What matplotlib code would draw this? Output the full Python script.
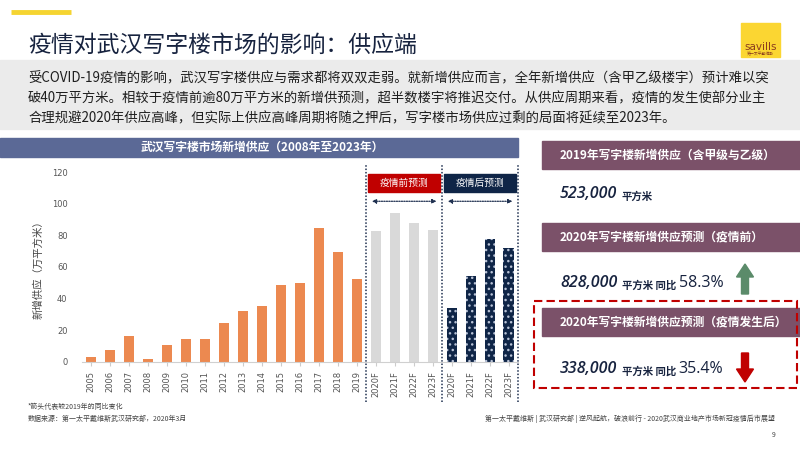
import matplotlib.pyplot as plt
from matplotlib.patches import Rectangle, FancyArrow
from matplotlib.transforms import blended_transform_factory

plt.rcParams['font.family'] = ['Noto Sans CJK SC', 'DejaVu Sans']

# data (万平方米)
years = ["2005", "2006", "2007", "2008", "2009", "2010", "2011", "2012", "2013", "2014",
         "2015", "2016", "2017", "2018", "2019"]
supply = [2.7, 7.2, 16.1, 1.8, 10.6, 14.2, 14.6, 24.3, 31.9, 35.3,
          48.4, 49.7, 84.5, 69.3, 52.3]
fc_years = ["2020F", "2021F", "2022F", "2023F"]
pre_covid = [82.8, 94.2, 87.7, 83.5]
post_covid = [33.8, 54.3, 77.8, 72.3]

orange = "#ec8950"
grey = "#d9d9d9"
navy = "#0f2547"
red = "#c00000"
mauve = "#7b5169"
darktext = "#17233f"
latin = ["Open Sans", "DejaVu Sans"]

fig = plt.figure(figsize=(8, 4.5), dpi=100)
bg = fig.add_axes([0, 0, 1, 1])
bg.set_xlim(0, 800)
bg.set_ylim(450, 0)
bg.axis("off")

# header
bg.plot([11, 71], [12, 12], color="#f5d431", lw=3.5, solid_capstyle="butt")
bg.text(28, 45, "疫情对武汉写字楼市场的影响：供应端", fontsize=16.5, color=darktext, va="center")
bg.add_patch(Rectangle((741, 23), 39, 34, color="#fbd632"))
bg.text(760.5, 47, "savills", fontsize=7.5, color="#8a3b1e", ha="center", va="center",
        family=["Liberation Sans Narrow", "DejaVu Sans"])
bg.text(760.5, 54, "第一太平戴维斯", fontsize=2.8, color="#8a3b1e", ha="center", va="center")

bg.add_patch(Rectangle((0, 60), 800, 69, color="#ebebeb"))
body = ["受COVID-19疫情的影响，武汉写字楼供应与需求都将双双走弱。就新增供应而言，全年新增供应（含甲乙级楼宇）预计难以突",
        "破40万平方米。相较于疫情前逾80万平方米的新增供预测，超半数楼宇将推迟交付。从供应周期来看，疫情的发生使部分业主",
        "合理规避2020年供应高峰，但实际上供应高峰周期将随之押后，写字楼市场供应过剩的局面将延续至2023年。"]
for i, line in enumerate(body):
    bg.text(28, 78 + i * 20, line, fontsize=9.6, color="#1e1e1e", va="center")

# chart banner
bg.add_patch(Rectangle((0, 138), 518, 19, color="#5b6996"))
bg.text(262, 147.5, "武汉写字楼市场新增供应（2008年至2023年）", fontsize=8.5, color="white",
        ha="center", va="center", style="italic", weight="bold")

# right panel
boxes = [(141, "2019年写字楼新增供应（含甲级与乙级）"),
         (223, "2020年写字楼新增供应预测（疫情前）"),
         (308, "2020年写字楼新增供应预测（疫情发生后）")]
for y, label in boxes:
    bg.add_patch(Rectangle((542, y), 258, 28, color=mauve))
    bg.text(560, y + 14, label, fontsize=8.5, color="white", va="center", style="italic", weight="bold")

values = [(193, "523,000", "平方米", ""), (282, "828,000", "平方米 同比", "58.3%"),
          (368, "338,000", "平方米 同比", "35.4%")]
for y, num, unit, pct in values:
    t = bg.text(560, y + 5, num, fontsize=11.5, color=darktext, va="baseline", style="italic",
                weight="semibold", family=latin)
    u = bg.annotate(unit, xy=(1, 0), xycoords=t, xytext=(3, 0), textcoords="offset points",
                    fontsize=7.5, color=darktext, va="bottom", weight="bold")
    if pct:
        bg.annotate(pct, xy=(1, 0), xycoords=u, xytext=(2, 0), textcoords="offset points",
                    fontsize=11.5, color=darktext, va="bottom", family=latin)

bg.add_patch(FancyArrow(745, 294, 0, -30, width=7, head_width=17, head_length=13,
                        length_includes_head=True, color="#5b8b6a"))
bg.add_patch(FancyArrow(745, 353, 0, 29, width=7, head_width=17, head_length=13,
                        length_includes_head=True, color=red))
bg.add_patch(Rectangle((534, 301), 263, 87, fill=False, edgecolor=red, lw=1.5, ls=(0, (4, 2))))

# footer
bg.text(28, 407, "*箭头代表较2019年的同比变化", fontsize=5, color="#444444", va="center")
bg.text(28, 419, "数据来源：第一太平戴维斯武汉研究部，2020年3月", fontsize=5, color="#444444", va="center")
bg.text(775, 419, "第一太平戴维斯 | 武汉研究部 | 逆风起航，破浪前行 - 2020武汉商业地产市场新冠疫情后市展望",
        fontsize=5, color="#444444", va="center", ha="right")
bg.text(772, 435, "9", fontsize=5, color="#444444", va="center")

# chart
ax = fig.add_axes([81.5 / 800, 1 - 361.7 / 450, 436.5 / 800, 189.4 / 450])
ax.patch.set_alpha(0)
labels = years + fc_years + fc_years
n1 = len(years)
x_hist = list(range(n1))
x_pre = list(range(n1, n1 + 4))
x_post = list(range(n1 + 4, n1 + 8))
ax.bar(x_hist, supply, width=0.53, color=orange)
ax.bar(x_pre, pre_covid, width=0.53, color=grey)
plt.rcParams['hatch.linewidth'] = 1.0
ax.bar(x_post, post_covid, width=0.53, color=navy, edgecolor="#b8c2d6", hatch="...", lw=0)

ax.set_xlim(-0.5, len(labels) - 0.5)
ax.set_ylim(0, 120)
ax.set_yticks(range(0, 121, 20))
ax.set_xticks(range(len(labels)))
ax.set_xticklabels(labels, rotation=90, family=["Liberation Sans Narrow", "DejaVu Sans"])
ax.tick_params(axis="x", labelsize=6, colors="#555555", length=3, color="#cccccc")
ax.tick_params(axis="y", labelsize=6, colors="#555555", length=0, pad=10)
for lab in ax.get_yticklabels():
    lab.set_family(["Liberation Sans Narrow", "DejaVu Sans"])
for s in ["top", "right", "left"]:
    ax.spines[s].set_visible(False)
ax.spines["bottom"].set_color("#d0d0d0")
ax.set_ylabel("新增供应（万平方米）", fontsize=7.5, color="#444444", labelpad=6)

tr = blended_transform_factory(ax.transData, ax.transAxes)
for xv in [n1 - 0.5, n1 + 3.5, n1 + 7.5]:
    ax.plot([xv, xv], [-0.213, 1.039], transform=tr, color="#1f3050", lw=1.1, ls=(0, (1, 1.2)), clip_on=False)

for x0, x1, col, txt in [(n1 - 0.4, n1 + 3.4, red, "疫情前预测"), (n1 + 3.6, n1 + 7.4, navy, "疫情后预测")]:
    ax.add_patch(Rectangle((x0, 0.895), x1 - x0, 0.097, transform=tr, color=col, clip_on=False))
    ax.text((x0 + x1) / 2, 0.943, txt, transform=tr, color="white", fontsize=7, ha="center", va="center")
    ax.annotate("", xy=(x0 + 0.05, 0.847), xytext=(x1 - 0.05, 0.847), xycoords=tr, textcoords=tr,
                arrowprops=dict(arrowstyle="<|-|>", color="#1f3050", lw=0.9, ls=(0, (1, 1)),
                                mutation_scale=6))

fig.savefig("out.png", dpi=100)
